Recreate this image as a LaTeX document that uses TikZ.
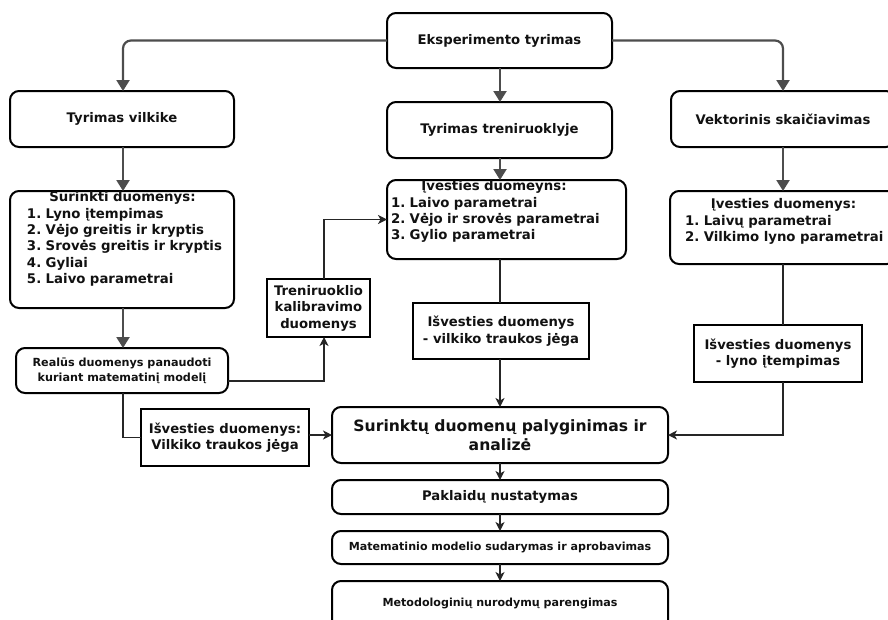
\documentclass[tikz,border=0pt]{standalone}
\usepackage{fontspec}
\setmainfont{DejaVu Sans}
\usetikzlibrary{arrows.meta}
\frenchspacing

\definecolor{flowgrey}{HTML}{4D4D4D}
\definecolor{inkblack}{HTML}{111111}

\tikzset{
  rbox/.style={draw=black, line width=2pt, rounded corners=9pt, fill=white,
    inner sep=0pt, outer sep=0pt, text=inkblack, align=center},
  sbox/.style={draw=black, line width=2pt, fill=white,
    inner sep=0pt, outer sep=0pt, text=inkblack, align=center},
  listtext/.style={inner sep=0pt, outer sep=0pt, text=inkblack, align=left,
    font=\fontsize{13.3}{16.4}\selectfont\bfseries},
  fbig/.style={font=\fontsize{15.6}{19}\selectfont\bfseries},
  fmain/.style={font=\fontsize{13.2}{16.5}\selectfont\bfseries},
  fsmall/.style={font=\fontsize{11.2}{15}\selectfont\bfseries},
  ftiny/.style={font=\fontsize{11.1}{13}\selectfont\bfseries},
  heavy/.style={draw=flowgrey, line width=2.2pt, rounded corners=8pt,
    -{Triangle[length=11pt,width=13pt]}},
  thin/.style={draw=black!85, line width=1.2pt,
    -{Stealth[length=9pt,width=9pt,inset=2.5pt]}},
  thinplain/.style={draw=black!85, line width=1.2pt},
}

\begin{document}
\begin{tikzpicture}[x=1pt,y=-1pt]
\useasboundingbox (0,0) rectangle (888,619);
\clip (0,0) rectangle (888,619);

% column guides for the connectors
\coordinate (colL) at (123,0);
\coordinate (colK) at (324,0);
\coordinate (colM) at (500,0);
\coordinate (colR) at (783,0);

% ---- boxes ----
\node[rbox, fmain, minimum width=225pt, minimum height=55pt] (eks) at (499.5,40.5) {Eksperimento tyrimas};
\node[rbox, fmain, minimum width=224pt, minimum height=56pt] (vilk) at (122,119) {Tyrimas vilkike};
\node[rbox, fmain, minimum width=225pt, minimum height=56pt] (tren) at (499.5,130) {Tyrimas treniruoklyje};
\node[rbox, fmain, minimum width=224pt, minimum height=56pt] (vekt) at (783,119) {Vektorinis skaičiavimas};

\node[rbox, minimum width=224pt, minimum height=117pt] (surinkti) at (122,249.5) {};
\node[listtext, anchor=north west, text width=191pt] (surinktiT) at (27,191.5)
  {{\centering Surinkti duomenys:\par}
   \mbox{1. Lyno įtempimas}\\
   \mbox{2. Vėjo greitis ir kryptis}\\
   \mbox{3. Srovės greitis ir kryptis}\\
   \mbox{4. Gyliai}\\
   \mbox{5. Laivo parametrai}};

\node[rbox, fsmall, minimum width=212pt, minimum height=45pt] (realus) at (122,370.5)
  {Realūs duomenys panaudoti\\kuriant matematinį modelį};

\node[sbox, fmain, minimum width=103pt, minimum height=58pt] (kalib) at (318.5,308)
  {Treniruoklio\\kalibravimo\\duomenys};

\node[rbox, minimum width=239pt, minimum height=79pt] (ivm) at (506.5,219.5) {};
\node[listtext, anchor=north west, text width=206pt] (ivmT) at (391,180.6)
  {{\centering Įvesties duomeyns:\par}
   \mbox{1. Laivo parametrai}\\
   \mbox{2. Vėjo ir srovės parametrai}\\
   \mbox{3. Gylio parametrai}};

\node[sbox, fmain, minimum width=176pt, minimum height=56pt] (isvm) at (501,331)
  {Išvesties duomenys\\- vilkiko traukos jėga};

\node[rbox, minimum width=226pt, minimum height=73pt] (ivr) at (783,227.5) {};
\node[listtext, anchor=north west, text width=197pt] (ivrT) at (685,198.6)
  {{\centering Įvesties duomenys:\par}
   \mbox{1. Laivų parametrai}\\
   \mbox{2. Vilkimo lyno parametrai}};

\node[sbox, fmain, minimum width=168pt, minimum height=57pt] (isvr) at (778,353.5)
  {Išvesties duomenys\\- lyno įtempimas};

\node[sbox, fmain, minimum width=168pt, minimum height=57pt] (isvl) at (225,437.5)
  {Išvesties duomenys:\\Vilkiko traukos jėga};

\node[rbox, fbig, minimum width=336pt, minimum height=56pt] (sur) at (500,435)
  {Surinktų duomenų palyginimas ir\\analizė};
\node[rbox, fmain, minimum width=336pt, minimum height=34pt] (pak) at (500,497)
  {Paklaidų nustatymas};
\node[rbox, ftiny, minimum width=336pt, minimum height=33pt] (mat) at (500,547.5)
  {Matematinio modelio sudarymas ir aprobavimas};
\node[rbox, minimum width=336pt, minimum height=52pt] (met) at (500,607) {};
\node[inner sep=0pt, ftiny, text=inkblack] (metT) at (500,603)
  {Metodologinių nurodymų parengimas};

% ---- connectors ----
\draw[heavy] (eks.west) -| (vilk.north -| colL);
\draw[heavy] (eks.east) -| (vekt.north -| colR);
\draw[heavy] (eks.south -| colM) -- (tren.north -| colM);

\draw[heavy, rounded corners=0pt] (vilk.south -| colL) -- (surinkti.north -| colL);
\draw[heavy, rounded corners=0pt] (surinkti.south -| colL) -- (realus.north -| colL);
\draw[heavy, rounded corners=0pt] (tren.south -| colM) -- (ivm.north -| colM);
\draw[heavy, rounded corners=0pt] (vekt.south -| colR) -- (ivr.north -| colR);

\draw[thin] ([yshift=-10.5pt]realus.east) -| (kalib.south -| colK);
\draw[thin] (kalib.north -| colK) |- (ivm.west);

\draw[thinplain] (ivm.south -| colM) -- (isvm.north -| colM);
\draw[thin] (isvm.south -| colM) -- (sur.north -| colM);

\draw[thinplain] (ivr.south -| colR) -- (isvr.north -| colR);
\draw[thin] (isvr.south -| colR) |- (sur.east);

\draw[thinplain] (realus.south -| colL) |- (isvl.west);
\draw[thin] (sur.west -| isvl.east) -- (sur.west);

\draw[thin] (sur.south -| colM) -- (pak.north -| colM);
\draw[thin] (pak.south -| colM) -- (mat.north -| colM);
\draw[thin] (mat.south -| colM) -- (met.north -| colM);
\end{tikzpicture}
\end{document}
